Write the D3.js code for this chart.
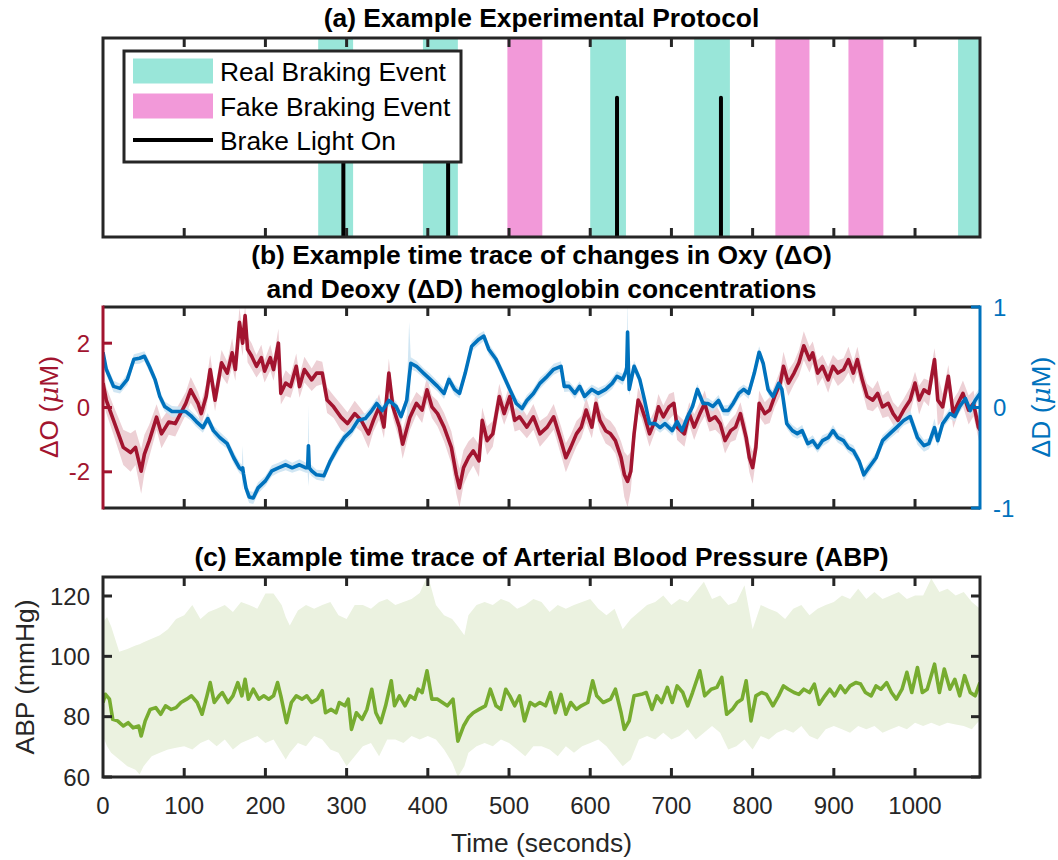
<!DOCTYPE html>
<html><head><meta charset="utf-8">
<script src="https://cdn.jsdelivr.net/npm/d3@7"></script>
<style>body{margin:0;background:#fff} svg{font-family:"Liberation Sans",Arial,Helvetica,sans-serif}</style>
</head><body><svg id="chart" width="1058" height="860"></svg>
<script>
// ---------------- DATA ----------------
const xTickValues = [0,100,200,300,400,500,600,700,800,900,1000];
const timeMax = 1080;
const realEvents = [[265,308],[394,437],[600,644],[728,772],[1053,1080]];
const fakeEvents = [[498,541],[828,870],[918,961]];
const brakeTimes = [296,425,633,761];
const brakeLevel = 0.7;
const legendLabels = ["Real Braking Event","Fake Braking Event","Brake Light On"];

const oxyT = [0,4,13,19,25,34,40,47,51,57,66,72,81,89,102,108,117,121,127,132,138,146,153,159,163,168,172,175,178,183,189,195,199,206,210,216,219,225,231,238,242,248,257,263,270,276,284,293,301,310,318,327,333,340,346,352,357,365,369,378,386,393,399,405,412,420,429,435,439,444,450,456,463,467,473,480,488,494,501,507,513,522,530,538,547,555,564,570,576,583,589,595,602,607,612,619,625,631,638,642,646,650,654,659,663,667,673,680,684,690,697,703,707,716,722,728,735,741,747,754,760,766,773,779,785,792,796,800,804,808,815,821,827,834,838,844,851,857,863,870,874,880,886,893,899,905,912,918,924,929,935,941,948,954,960,967,973,979,986,994,1000,1005,1011,1017,1024,1028,1034,1041,1047,1053,1059,1066,1072,1078,1080];
const oxyV = [0.76,0.23,-0.4,-0.82,-1.24,-1.4,-1.24,-1.98,-1.45,-1.03,-0.3,-0.82,-0.45,-0.5,0.13,0.55,0.13,-0.19,0.34,1.18,0.23,1.39,1.07,1.7,1.18,2.65,2.0,2.86,1.81,1.6,1.28,1.55,1.13,1.55,1.18,2.0,0.44,0.76,0.65,1.28,0.65,1.18,0.86,1.07,1.07,0.23,0.02,-0.3,-0.5,-0.19,-0.4,-0.82,-0.4,0.02,-0.61,1.07,0.02,-0.61,-1.14,-0.3,0.13,-0.08,0.55,0.02,-0.19,-0.61,-1.24,-2.08,-2.5,-1.87,-1.56,-1.35,-1.66,-0.4,-1.03,-0.82,0.34,-0.19,0.34,-0.4,-0.29,-0.61,-0.29,-0.82,-0.61,-0.29,-1.03,-1.56,-1.24,-0.82,-0.61,-0.08,-0.61,0.13,-0.4,-0.72,-0.82,-1.03,-1.56,-2.08,-2.3,-1.98,-0.82,0.23,0.02,-0.29,-0.82,-0.4,0.02,-0.29,0.02,0.13,-0.61,-0.82,-0.19,-0.61,-0.19,0.13,-0.4,-0.29,-0.5,-1.03,-0.72,-0.61,-0.19,-0.93,-1.56,-1.87,-1.24,0.13,-0.19,-0.08,0.34,0.76,1.28,0.76,1.07,1.39,1.92,1.49,1.7,1.07,1.28,0.86,1.28,1.07,1.18,1.49,1.07,1.49,0.86,0.34,0.23,0.44,0.02,0.13,-0.19,-0.4,-0.08,0.23,0.76,0.23,0.55,0.44,1.49,0.23,0.02,0.97,-0.19,0.13,0.44,-0.08,0.13,-0.61,-0.7];
const oxyE = [0.5,0.4,0.45,0.5,0.55,0.6,0.55,0.7,0.6,0.5,0.4,0.45,0.4,0.4,0.35,0.4,0.35,0.35,0.4,0.45,0.35,0.4,0.35,0.45,0.35,0.45,0.4,0.3,0.4,0.4,0.35,0.4,0.35,0.4,0.35,0.45,0.35,0.4,0.35,0.4,0.35,0.4,0.35,0.4,0.35,0.4,0.35,0.4,0.35,0.4,0.35,0.45,0.35,0.4,0.35,0.45,0.35,0.4,0.45,0.4,0.35,0.4,0.4,0.35,0.4,0.45,0.5,0.6,0.6,0.55,0.5,0.45,0.5,0.4,0.45,0.4,0.4,0.35,0.4,0.35,0.4,0.35,0.4,0.4,0.35,0.4,0.45,0.45,0.4,0.4,0.35,0.4,0.35,0.4,0.35,0.4,0.4,0.4,0.5,0.7,0.8,0.6,0.45,0.4,0.35,0.4,0.4,0.35,0.4,0.35,0.4,0.35,0.4,0.4,0.35,0.4,0.35,0.4,0.35,0.4,0.35,0.4,0.35,0.4,0.35,0.4,0.45,0.5,0.4,0.4,0.35,0.4,0.35,0.4,0.45,0.4,0.35,0.4,0.45,0.4,0.35,0.4,0.35,0.4,0.35,0.4,0.35,0.4,0.35,0.4,0.35,0.4,0.35,0.4,0.35,0.4,0.35,0.4,0.35,0.4,0.35,0.45,0.35,0.4,0.35,0.8,0.4,0.35,0.45,0.35,0.4,0.45,0.4,0.35,0.5,0.5];

const deoxyT = [0,4,13,21,30,38,45,51,57,64,70,76,85,93,102,108,115,123,129,136,144,153,161,168,171,172,173,176,180,185,191,200,208,216,225,233,242,250,252,253,254,257,263,272,280,289,297,306,314,323,331,337,344,352,361,367,374,377,379,386,395,403,412,420,426,433,439,446,454,463,469,475,484,492,501,509,516,522,530,538,547,555,564,568,574,581,587,593,602,610,619,627,633,640,644,645,646,647,648,654,661,667,673,680,686,692,701,707,713,720,726,732,739,745,751,758,764,770,776,783,789,795,802,808,813,819,825,832,836,842,849,855,861,868,874,880,886,893,899,905,912,918,924,931,937,943,952,960,969,977,986,994,1003,1011,1017,1024,1028,1034,1043,1049,1055,1062,1068,1074,1080];
const deoxyV = [0.55,0.38,0.21,0.19,0.28,0.48,0.49,0.51,0.41,0.28,0.11,0.01,-0.04,-0.04,-0.04,-0.08,-0.14,-0.2,-0.11,-0.23,-0.3,-0.36,-0.5,-0.6,-0.62,-0.6,-0.66,-0.8,-0.89,-0.9,-0.8,-0.73,-0.63,-0.6,-0.57,-0.6,-0.57,-0.6,-0.6,-0.38,-0.6,-0.63,-0.67,-0.68,-0.53,-0.4,-0.3,-0.23,-0.13,-0.11,-0.03,0.04,-0.03,0.07,0.01,-0.09,0.07,0.3,0.44,0.41,0.34,0.28,0.21,0.14,0.28,0.18,0.14,0.34,0.61,0.68,0.71,0.58,0.48,0.34,0.18,0.04,-0.01,0.07,0.14,0.24,0.31,0.38,0.41,0.21,0.21,0.14,0.21,0.11,0.18,0.14,0.18,0.24,0.31,0.28,0.36,0.4,0.75,0.4,0.18,0.41,0.28,0.07,-0.16,-0.16,-0.2,-0.16,-0.23,-0.14,-0.23,-0.09,0.01,0.18,0.04,0.04,0.01,0.07,-0.03,-0.03,0.04,0.14,0.18,0.14,0.34,0.55,0.44,0.18,0.11,0.24,0.18,-0.16,-0.23,-0.26,-0.23,-0.36,-0.33,-0.4,-0.33,-0.3,-0.23,-0.3,-0.33,-0.4,-0.43,-0.53,-0.67,-0.6,-0.5,-0.33,-0.26,-0.2,-0.13,-0.09,-0.3,-0.38,-0.36,-0.2,-0.33,-0.16,-0.06,-0.09,0.01,0.09,-0.03,0.07,0.14];
const deoxyE = [
  0.06,0.055,0.055,0.05,0.055,0.05,0.055,0.05,0.055,0.05,
  0.055,0.05,0.055,0.05,0.055,0.05,0.055,0.05,0.055,0.05,
  0.055,0.05,0.06,0.055,0.05,0.22,0.05,0.06,0.06,0.06,
  0.055,0.05,0.055,0.05,0.055,0.05,0.055,0.05,0.05,0.4,
  0.05,0.055,0.05,0.055,0.05,0.055,0.05,0.055,0.05,0.055,
  0.05,0.055,0.05,0.055,0.05,0.055,0.05,0.55,0.06,0.055,
  0.05,0.055,0.05,0.055,0.05,0.055,0.05,0.055,0.05,0.055,
  0.05,0.055,0.05,0.055,0.05,0.055,0.05,0.055,0.05,0.055,
  0.05,0.055,0.05,0.055,0.05,0.055,0.05,0.055,0.05,0.055,
  0.05,0.055,0.05,0.055,0.06,0.1,0.35,0.1,0.06,0.055,
  0.05,0.055,0.05,0.055,0.05,0.055,0.05,0.055,0.05,0.055,
  0.05,0.055,0.05,0.055,0.05,0.055,0.05,0.055,0.05,0.055,
  0.05,0.055,0.06,0.06,0.055,0.05,0.055,0.05,0.055,0.05,
  0.055,0.05,0.055,0.05,0.055,0.05,0.055,0.05,0.055,0.05,
  0.055,0.05,0.055,0.05,0.06,0.055,0.05,0.055,0.05,0.055,
  0.05,0.06,0.07,0.06,0.055,0.09,0.055,0.05,0.055,0.05,
  0.055,0.05,0.06,0.06,0.06];

const abpT = [0,3,8,12,18,25,31,37,44,47,52,58,65,71,77,84,90,96,103,109,116,122,128,132,137,143,147,154,160,166,171,175,179,185,192,198,204,210,215,219,226,232,238,245,251,257,264,270,274,281,287,291,298,302,306,312,319,325,331,336,342,348,355,359,365,372,378,384,388,393,399,405,412,418,424,431,437,444,450,456,463,471,477,484,490,496,501,507,513,519,526,532,538,545,551,557,564,570,576,583,589,597,603,608,616,625,631,638,642,648,654,663,669,676,682,688,695,701,707,714,720,726,735,741,749,756,762,768,775,781,787,792,798,804,811,817,825,832,838,844,851,857,863,870,876,882,889,895,901,908,914,920,927,933,939,946,952,958,965,971,977,984,990,996,1003,1009,1015,1024,1030,1036,1043,1049,1055,1061,1068,1074,1080];
const abpV = [84.7,87.4,85.8,79.1,78.6,76.9,78.0,76.3,76.9,73.6,78.6,82.4,83.0,80.8,83.6,82.4,83.0,84.7,85.8,86.9,84.7,80.8,86.9,91.3,84.7,86.9,88.0,84.7,86.9,91.3,86.9,92.4,85.8,89.1,85.8,86.9,85.8,86.9,91.3,86.9,78.0,84.7,86.9,85.8,86.9,84.7,85.8,88.6,81.3,82.4,81.3,84.7,83.6,85.8,75.8,81.3,79.1,82.4,89.1,81.3,78.0,83.6,91.9,83.6,86.9,83.6,86.9,85.8,89.1,88.0,95.2,85.8,85.8,84.7,83.6,85.8,71.9,76.9,79.7,81.3,82.4,83.6,89.1,83.6,82.4,89.1,86.9,83.6,86.9,78.6,84.7,83.6,84.7,83.6,88.0,81.3,87.4,80.8,84.7,82.4,83.6,84.7,91.9,86.9,84.7,85.8,89.1,81.3,75.8,78.6,86.9,87.4,88.0,82.4,86.9,84.7,89.7,84.7,90.2,88.0,83.6,88.0,95.2,86.9,89.1,89.7,93.0,80.8,82.4,84.7,85.8,91.9,78.6,86.9,88.0,87.4,83.6,86.9,90.2,89.1,88.0,87.4,89.1,88.0,90.8,84.1,86.9,89.1,86.9,90.2,88.0,90.2,91.3,90.8,88.0,86.9,90.2,89.1,91.3,88.0,85.8,89.1,94.7,88.0,96.3,88.0,89.1,97.4,88.0,95.8,89.1,92.4,86.9,93.6,88.0,86.9,91.3];

const abpBandT = [0,5,10,20,30,40,45,50,60,70,80,90,100,110,120,130,140,150,160,170,180,190,200,210,220,225,230,240,250,260,270,280,290,300,310,320,330,340,350,360,370,380,390,400,410,420,430,437,445,450,460,470,480,490,500,510,520,530,540,550,560,570,580,590,600,610,620,630,640,650,660,670,680,690,700,710,720,730,740,750,760,770,780,790,800,810,820,830,840,850,860,870,880,890,900,910,920,930,940,950,960,970,980,990,1000,1010,1020,1030,1040,1050,1060,1070,1080];
const abpUpper = [111.3,113.0,110.0,101.5,102.4,103.6,104.0,104.7,105.8,107.0,109.0,112.4,113.6,117.0,112.4,114.7,115.8,117.0,114.7,118.0,117.0,115.8,120.8,120.8,117.0,113.0,110.2,115.2,117.0,115.8,117.0,118.0,113.6,112.4,117.0,117.0,115.8,118.0,119.0,117.0,118.0,119.0,121.0,126.9,117.0,113.6,112.4,110.0,107.0,113.6,117.0,118.0,117.0,119.0,118.0,115.8,117.0,119.0,118.0,114.7,117.0,115.8,117.0,118.0,119.0,115.8,113.6,115.8,109.0,112.4,114.7,117.0,118.0,120.2,117.0,119.0,118.0,121.3,124.7,119.0,120.2,117.0,118.0,123.6,109.0,117.0,115.8,114.7,112.4,115.8,117.0,113.6,115.8,117.0,118.0,120.2,119.0,122.4,119.0,121.3,119.0,120.2,121.3,119.0,120.2,120.2,125.8,121.3,122.4,120.2,121.3,118.0,115.8];
const abpLower = [73.6,70.2,68.0,65.8,63.6,62.4,60.8,63.6,66.9,68.0,69.1,69.7,70.2,69.1,71.3,72.4,70.2,72.4,69.1,71.3,72.4,73.6,71.3,72.4,68.0,65.8,68.0,71.3,70.2,73.6,72.4,69.1,68.0,63.6,66.9,70.2,71.3,66.9,72.4,72.4,71.3,73.6,72.4,73.6,72.4,69.1,64.7,60.0,63.6,68.0,70.2,71.3,70.2,72.4,71.3,69.1,66.9,70.2,70.2,69.1,66.9,70.2,68.0,70.2,71.3,72.4,70.2,66.9,63.6,65.8,72.4,73.6,72.4,74.7,72.4,73.6,75.8,72.4,74.7,76.9,74.7,69.1,70.2,72.4,69.1,73.6,72.4,74.7,75.8,74.7,76.9,73.6,72.4,75.8,76.9,75.8,74.7,76.9,75.8,76.9,74.7,75.8,76.9,75.8,78.0,76.9,78.0,76.9,78.0,77.4,76.9,75.8,79.0];

const oxyTicks = [-2,0,2];
const deoxyTicks = [-1,0,1];
const abpTicks = [60,80,100,120];

// ---------------- DRAW ----------------
const svg = d3.select("#chart");
const axisCol = "#262626";
const red = "#A2142F", blue = "#0072BD", green = "#77AC30";
const X0 = 103, X1 = 980;
const x = d3.scaleLinear().domain([0, timeMax]).range([X0, X1]);
const midX = (X0 + X1) / 2;

const defs = svg.append("defs");
function clip(id, top, bottom){
  defs.append("clipPath").attr("id", id).append("rect")
    .attr("x", X0).attr("y", top).attr("width", X1 - X0).attr("height", bottom - top);
}

function xTicks(g, top, bottom, color){
  xTickValues.forEach(v => {
    if (v === 0) return;
    g.append("line").attr("x1", x(v)).attr("x2", x(v)).attr("y1", top).attr("y2", top + 9)
      .attr("stroke", color).attr("stroke-width", 3);
    g.append("line").attr("x1", x(v)).attr("x2", x(v)).attr("y1", bottom).attr("y2", bottom - 9)
      .attr("stroke", color).attr("stroke-width", 3);
  });
}

// ===== Panel (a) =====
const A = {top: 38, bottom: 237};
const ya = d3.scaleLinear().domain([0,1]).range([A.bottom, A.top]);
clip("clipA", A.top, A.bottom);
const ga = svg.append("g");
const gaData = ga.append("g").attr("clip-path", "url(#clipA)");
gaData.selectAll("rect.real").data(realEvents).join("rect")
  .attr("x", d => x(d[0])).attr("width", d => x(d[1]) - x(d[0]))
  .attr("y", ya(1)).attr("height", ya(0) - ya(1)).attr("fill", "#99E6D9");
gaData.selectAll("rect.fake").data(fakeEvents).join("rect")
  .attr("x", d => x(d[0])).attr("width", d => x(d[1]) - x(d[0]))
  .attr("y", ya(1)).attr("height", ya(0) - ya(1)).attr("fill", "#F299D9");
gaData.selectAll("line.brake").data(brakeTimes).join("line")
  .attr("x1", d => x(d)).attr("x2", d => x(d)).attr("y1", ya(0)).attr("y2", ya(brakeLevel))
  .attr("stroke", "#000").attr("stroke-width", 4).attr("stroke-linecap", "round");
xTicks(ga, A.top, A.bottom, axisCol);
ga.append("rect").attr("x", X0).attr("y", A.top).attr("width", X1 - X0).attr("height", A.bottom - A.top)
  .attr("fill", "none").attr("stroke", axisCol).attr("stroke-width", 3);
ga.append("text").attr("x", midX).attr("y", 27).attr("text-anchor", "middle")
  .attr("font-size", 26.4).attr("font-weight", "bold").text("(a) Example Experimental Protocol");

// legend
const lg = ga.append("g");
lg.append("rect").attr("x", 124).attr("y", 51).attr("width", 337).attr("height", 111)
  .attr("fill", "#fff").attr("stroke", axisCol).attr("stroke-width", 3);
const rowsY = [71, 106, 140];
lg.append("rect").attr("x", 133).attr("y", rowsY[0] - 12.5).attr("width", 80).attr("height", 25).attr("fill", "#99E6D9");
lg.append("rect").attr("x", 133).attr("y", rowsY[1] - 12.5).attr("width", 80).attr("height", 25).attr("fill", "#F299D9");
lg.append("line").attr("x1", 133).attr("x2", 213).attr("y1", rowsY[2]).attr("y2", rowsY[2]).attr("stroke", "#000").attr("stroke-width", 4);
legendLabels.forEach((t, i) => {
  lg.append("text").attr("x", 220).attr("y", rowsY[i] + 9.5).attr("font-size", 26.4).attr("fill", "#000").text(t);
});

// ===== Panel (b) =====
const B = {top: 307, bottom: 508};
const yo = d3.scaleLinear().domain([-3.125, 3.125]).range([B.bottom, B.top]);
const yd = d3.scaleLinear().domain([-1, 1]).range([B.bottom, B.top]);
clip("clipB", B.top, B.bottom);
const gb = svg.append("g");
const gbData = gb.append("g").attr("clip-path", "url(#clipB)");
const oxy = oxyT.map((t, i) => ({t, v: oxyV[i], e: oxyE[i]}));
const deoxy = deoxyT.map((t, i) => ({t, v: deoxyV[i], e: deoxyE[i]}));
gbData.append("path").datum(oxy).attr("fill", "#EDD0D5")
  .attr("d", d3.area().x(d => x(d.t)).y0(d => yo(d.v - d.e)).y1(d => yo(d.v + d.e)));
gbData.append("path").datum(deoxy).attr("fill", "#CCE3F2").attr("fill-opacity", 0.9)
  .attr("d", d3.area().x(d => x(d.t)).y0(d => yd(d.v - d.e)).y1(d => yd(d.v + d.e)));
gbData.append("path").datum(oxy).attr("fill", "none").attr("stroke", red).attr("stroke-width", 3.6)
  .attr("stroke-linejoin", "round").attr("d", d3.line().x(d => x(d.t)).y(d => yo(d.v)));
gbData.append("path").datum(deoxy).attr("fill", "none").attr("stroke", blue).attr("stroke-width", 3.6)
  .attr("stroke-linejoin", "round").attr("d", d3.line().x(d => x(d.t)).y(d => yd(d.v)));
xTicks(gb, B.top, B.bottom, axisCol);
gb.append("line").attr("x1", X0).attr("x2", X1).attr("y1", B.top).attr("y2", B.top).attr("stroke", axisCol).attr("stroke-width", 3);
gb.append("line").attr("x1", X0).attr("x2", X1).attr("y1", B.bottom).attr("y2", B.bottom).attr("stroke", axisCol).attr("stroke-width", 3);
// left axis
gb.append("line").attr("x1", X0).attr("x2", X0).attr("y1", B.top - 1.5).attr("y2", B.bottom + 1.5).attr("stroke", red).attr("stroke-width", 3);
oxyTicks.forEach(v => {
  gb.append("line").attr("x1", X0).attr("x2", X0 + 9).attr("y1", yo(v)).attr("y2", yo(v)).attr("stroke", red).attr("stroke-width", 3);
  gb.append("text").attr("x", 90).attr("y", yo(v) + 8.5).attr("text-anchor", "end").attr("font-size", 24).attr("fill", red).text(v);
});
// right axis
gb.append("line").attr("x1", X1).attr("x2", X1).attr("y1", B.top - 1.5).attr("y2", B.bottom + 1.5).attr("stroke", blue).attr("stroke-width", 3);
deoxyTicks.forEach(v => {
  gb.append("line").attr("x1", X1).attr("x2", X1 - 9).attr("y1", yd(v)).attr("y2", yd(v)).attr("stroke", blue).attr("stroke-width", 3);
  gb.append("text").attr("x", 993).attr("y", yd(v) + 8.5).attr("text-anchor", "start").attr("font-size", 24).attr("fill", blue).text(v);
});
// labels
function deltaLabel(g, cx, cy, letter, color){
  const t = g.append("text").attr("transform", `translate(${cx},${cy}) rotate(-90)`)
    .attr("text-anchor", "middle").attr("font-size", 26.4).attr("fill", color);
  t.append("tspan").text("\u0394" + letter + " (");
  t.append("tspan").attr("font-style", "italic").attr("font-family", "'DejaVu Serif','Liberation Serif',serif").text("\u03BC");
  t.append("tspan").text("M)");
}
deltaLabel(gb, 58, 407, "O", red);
deltaLabel(gb, 1050, 407, "D", blue);
gb.append("text").attr("x", midX).attr("y", 264).attr("text-anchor", "middle").attr("font-size", 26.4).attr("font-weight", "bold")
  .text("(b) Example time trace of changes in Oxy (\u0394O)");
gb.append("text").attr("x", midX).attr("y", 298).attr("text-anchor", "middle").attr("font-size", 26.4).attr("font-weight", "bold")
  .text("and Deoxy (\u0394D) hemoglobin concentrations");

// ===== Panel (c) =====
const C = {top: 577, bottom: 777};
const yc = d3.scaleLinear().domain([60, 126.3]).range([C.bottom, C.top]);
clip("clipC", C.top, C.bottom);
const gc = svg.append("g");
const gcData = gc.append("g").attr("clip-path", "url(#clipC)");
const band = abpBandT.map((t, i) => ({t, lo: abpLower[i], hi: abpUpper[i]}));
gcData.append("path").datum(band).attr("fill", "#EBF2E0")
  .attr("d", d3.area().x(d => x(d.t)).y0(d => yc(d.lo)).y1(d => yc(d.hi)));
const abp = abpT.map((t, i) => ({t, v: abpV[i]}));
gcData.append("path").datum(abp).attr("fill", "none").attr("stroke", green).attr("stroke-width", 3.6)
  .attr("stroke-linejoin", "round").attr("d", d3.line().x(d => x(d.t)).y(d => yc(d.v)));
xTicks(gc, C.top, C.bottom, axisCol);
abpTicks.forEach(v => {
  gc.append("line").attr("x1", X0).attr("x2", X0 + 9).attr("y1", yc(v)).attr("y2", yc(v)).attr("stroke", axisCol).attr("stroke-width", 3);
  gc.append("line").attr("x1", X1).attr("x2", X1 - 9).attr("y1", yc(v)).attr("y2", yc(v)).attr("stroke", axisCol).attr("stroke-width", 3);
  gc.append("text").attr("x", 90).attr("y", yc(v) + 8.5).attr("text-anchor", "end").attr("font-size", 24).attr("fill", axisCol).text(v);
});
gc.append("rect").attr("x", X0).attr("y", C.top).attr("width", X1 - X0).attr("height", C.bottom - C.top)
  .attr("fill", "none").attr("stroke", axisCol).attr("stroke-width", 3);
xTickValues.forEach(v => {
  gc.append("text").attr("x", x(v)).attr("y", 814).attr("text-anchor", "middle").attr("font-size", 24).attr("fill", axisCol).text(v);
});
gc.append("text").attr("x", midX).attr("y", 852).attr("text-anchor", "middle").attr("font-size", 26.4).attr("fill", axisCol).text("Time (seconds)");
gc.append("text").attr("transform", `translate(34,677) rotate(-90)`).attr("text-anchor", "middle")
  .attr("font-size", 26.4).attr("fill", axisCol).text("ABP (mmHg)");
gc.append("text").attr("x", midX).attr("y", 566).attr("text-anchor", "middle").attr("font-size", 26.4).attr("font-weight", "bold")
  .text("(c) Example time trace of Arterial Blood Pressure (ABP)");
</script></body></html>
